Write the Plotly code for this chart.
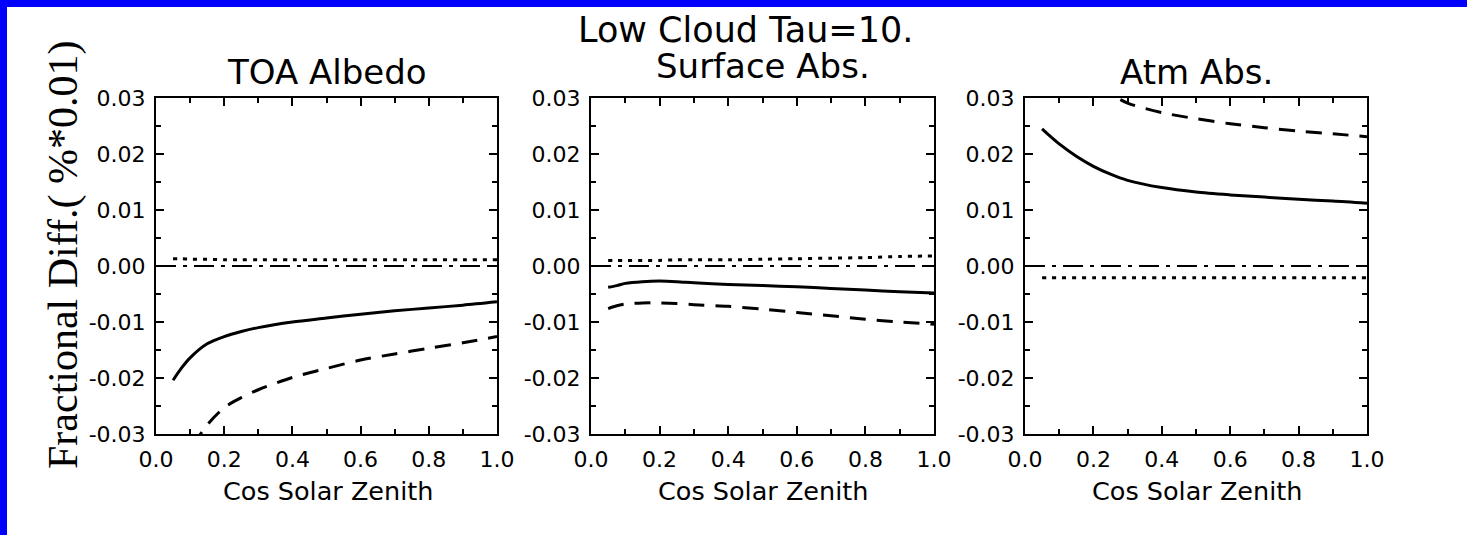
import plotly.graph_objects as go

# cosine of the solar zenith angle
cos_sza = [0.05, 0.075, 0.1, 0.15, 0.2, 0.25, 0.3, 0.4, 0.5, 0.6, 0.7, 0.8, 0.9, 1.0]
ref_x = [0.0, 1.0]
ref_y = [0.0, 0.0]

# TOA albedo fractional differences
toa_solid = [-0.0204, -0.0182, -0.0164, -0.0139, -0.0126, -0.0117, -0.0110, -0.0100,
             -0.0093, -0.0086, -0.0080, -0.0075, -0.0070, -0.0064]
toa_dashed = [-0.0410, -0.0370, -0.0330, -0.0284, -0.0253, -0.0235, -0.0221, -0.0199,
              -0.0183, -0.0168, -0.0157, -0.0147, -0.0137, -0.0126]
toa_dotted = [0.0013, 0.0013, 0.0012, 0.0012, 0.0011, 0.0011, 0.0011, 0.0011,
              0.0011, 0.0011, 0.0011, 0.0011, 0.0011, 0.0011]

# surface absorption fractional differences
sfc_solid = [-0.0038, -0.0035, -0.0031, -0.0028, -0.0027, -0.0028, -0.0030, -0.0033,
             -0.0035, -0.0037, -0.0040, -0.0043, -0.0046, -0.0048]
sfc_dashed = [-0.0076, -0.0071, -0.0068, -0.0066, -0.0066, -0.0067, -0.0069, -0.0072,
              -0.0077, -0.0083, -0.0089, -0.0095, -0.0100, -0.0104]
sfc_dotted = [0.0010, 0.0010, 0.0010, 0.0010, 0.0010, 0.0011, 0.0011, 0.0011,
              0.0012, 0.0013, 0.0014, 0.0015, 0.0017, 0.0018]

# atmospheric absorption fractional differences
atm_solid = [0.0245, 0.0231, 0.0218, 0.0196, 0.0178, 0.0164, 0.0153, 0.0140,
             0.0132, 0.0127, 0.0123, 0.0119, 0.0116, 0.0112]
atm_dashed = [0.0490, 0.0460, 0.0430, 0.0380, 0.0340, 0.0308, 0.0291, 0.0274,
              0.0263, 0.0254, 0.0247, 0.0241, 0.0236, 0.0231]
atm_dotted = [-0.0021, -0.0021, -0.0021, -0.0021, -0.0021, -0.0021, -0.0021, -0.0021,
              -0.0021, -0.0021, -0.0021, -0.0021, -0.0021, -0.0021]

x_ticks = [0.0, 0.2, 0.4, 0.6, 0.8, 1.0]
x_ticktext = ["0.0", "0.2", "0.4", "0.6", "0.8", "1.0"]
y_ticks = [-0.03, -0.02, -0.01, 0.0, 0.01, 0.02, 0.03]
y_ticktext = ["-0.03", "-0.02", "-0.01", "0.00", "0.01", "0.02", "0.03"]

panel_titles = ["TOA Albedo", "Surface Abs.", "Atm Abs."]
main_title = "Low Cloud Tau=10."
x_title = "Cos Solar Zenith"
y_title = "Fractional Diff.( %*0.01)"

W, H = 1467, 535


def fx(p):
    return p / W


def fy(p):
    return 1 - p / H


panel_px = [(156, 497), (591, 934), (1025, 1367)]
top_px, bot_px = 98, 434

fig = go.Figure()

panels = [
    (toa_solid, toa_dashed, toa_dotted),
    (sfc_solid, sfc_dashed, sfc_dotted),
    (atm_solid, atm_dashed, atm_dotted),
]

for i, (solid, dashed, dotted) in enumerate(panels):
    xa = "x" if i == 0 else f"x{i + 1}"
    ya = "y" if i == 0 else f"y{i + 1}"
    fig.add_trace(go.Scatter(x=ref_x, y=ref_y, mode="lines", xaxis=xa, yaxis=ya,
                             line=dict(color="black", width=2, dash="20px,7px,4px,7px")))
    fig.add_trace(go.Scatter(x=cos_sza, y=dotted, mode="lines", xaxis=xa, yaxis=ya,
                             line=dict(color="black", width=3, dash="4px,6px",
                                       shape="spline", smoothing=0.8)))
    fig.add_trace(go.Scatter(x=cos_sza, y=solid, mode="lines", xaxis=xa, yaxis=ya,
                             line=dict(color="black", width=3,
                                       shape="spline", smoothing=0.8)))
    fig.add_trace(go.Scatter(x=cos_sza, y=dashed, mode="lines", xaxis=xa, yaxis=ya,
                             line=dict(color="black", width=3, dash="16px,11px",
                                       shape="spline", smoothing=0.8)))

tick_font = dict(family="DejaVu Sans", size=22, color="black")
axis_common = dict(showline=True, linewidth=2, linecolor="black", mirror="ticks",
                   ticks="inside", ticklen=8, tickwidth=2, tickcolor="black",
                   showgrid=False, zeroline=False, tickfont=tick_font, fixedrange=True,
                   automargin=False)

layout_axes = {}
for i, (x0, x1) in enumerate(panel_px):
    suffix = "" if i == 0 else str(i + 1)
    layout_axes[f"xaxis{suffix}"] = dict(
        axis_common, domain=[fx(x0), fx(x1)], range=[0, 1],
        anchor=f"y{suffix}", tickvals=x_ticks, ticktext=x_ticktext,
        ticklabelstandoff=5,
        minor=dict(ticks="inside", ticklen=5, tickwidth=2, tickcolor="black",
                   tickvals=[0.1, 0.3, 0.5, 0.7, 0.9]))
    layout_axes[f"yaxis{suffix}"] = dict(
        axis_common, domain=[fy(bot_px), fy(top_px)], range=[-0.03, 0.03],
        anchor=f"x{suffix}", tickvals=y_ticks, ticktext=y_ticktext,
        ticklabelstandoff=4,
        minor=dict(ticks="inside", ticklen=5, tickwidth=2, tickcolor="black",
                   tickvals=[-0.025, -0.015, -0.005, 0.005, 0.015, 0.025]))

annotations = []
title_font = dict(family="DejaVu Sans", size=34, color="black")
title_y = [71.5, 66, 72]
for i, (x0, x1) in enumerate(panel_px):
    cx = (x0 + x1) / 2
    annotations.append(dict(text=panel_titles[i], x=fx(cx), y=fy(title_y[i]),
                            xref="paper", yref="paper", showarrow=False,
                            xanchor="center", yanchor="middle", font=title_font))
    annotations.append(dict(text=x_title, x=fx(cx + 1), y=fy(491),
                            xref="paper", yref="paper", showarrow=False,
                            xanchor="center", yanchor="middle",
                            font=dict(family="DejaVu Sans", size=25.5, color="black")))

annotations.append(dict(text=main_title, x=fx(745), y=fy(30), xref="paper", yref="paper",
                        showarrow=False, xanchor="center", yanchor="middle",
                        font=dict(family="DejaVu Sans", size=35, color="black")))
annotations.append(dict(text=y_title, x=fx(64), y=fy(255), xref="paper", yref="paper",
                        showarrow=False, xanchor="center", yanchor="middle", textangle=-90,
                        font=dict(family="Liberation Serif", size=42, color="black")))

# blue frame along the top and left edges
shapes = [
    dict(type="rect", xref="paper", yref="paper", x0=0, x1=fx(7), y0=0, y1=1,
         fillcolor="#0000ff", line=dict(width=0), layer="above"),
    dict(type="rect", xref="paper", yref="paper", x0=0, x1=1, y0=fy(7), y1=1,
         fillcolor="#0000ff", line=dict(width=0), layer="above"),
]

fig.update_layout(
    width=W, height=H,
    margin=dict(l=0, r=0, t=0, b=0, pad=0, autoexpand=False),
    paper_bgcolor="white", plot_bgcolor="white", showlegend=False,
    annotations=annotations, shapes=shapes, **layout_axes,
)

fig.write_html("out.html", config={"displayModeBar": False})
